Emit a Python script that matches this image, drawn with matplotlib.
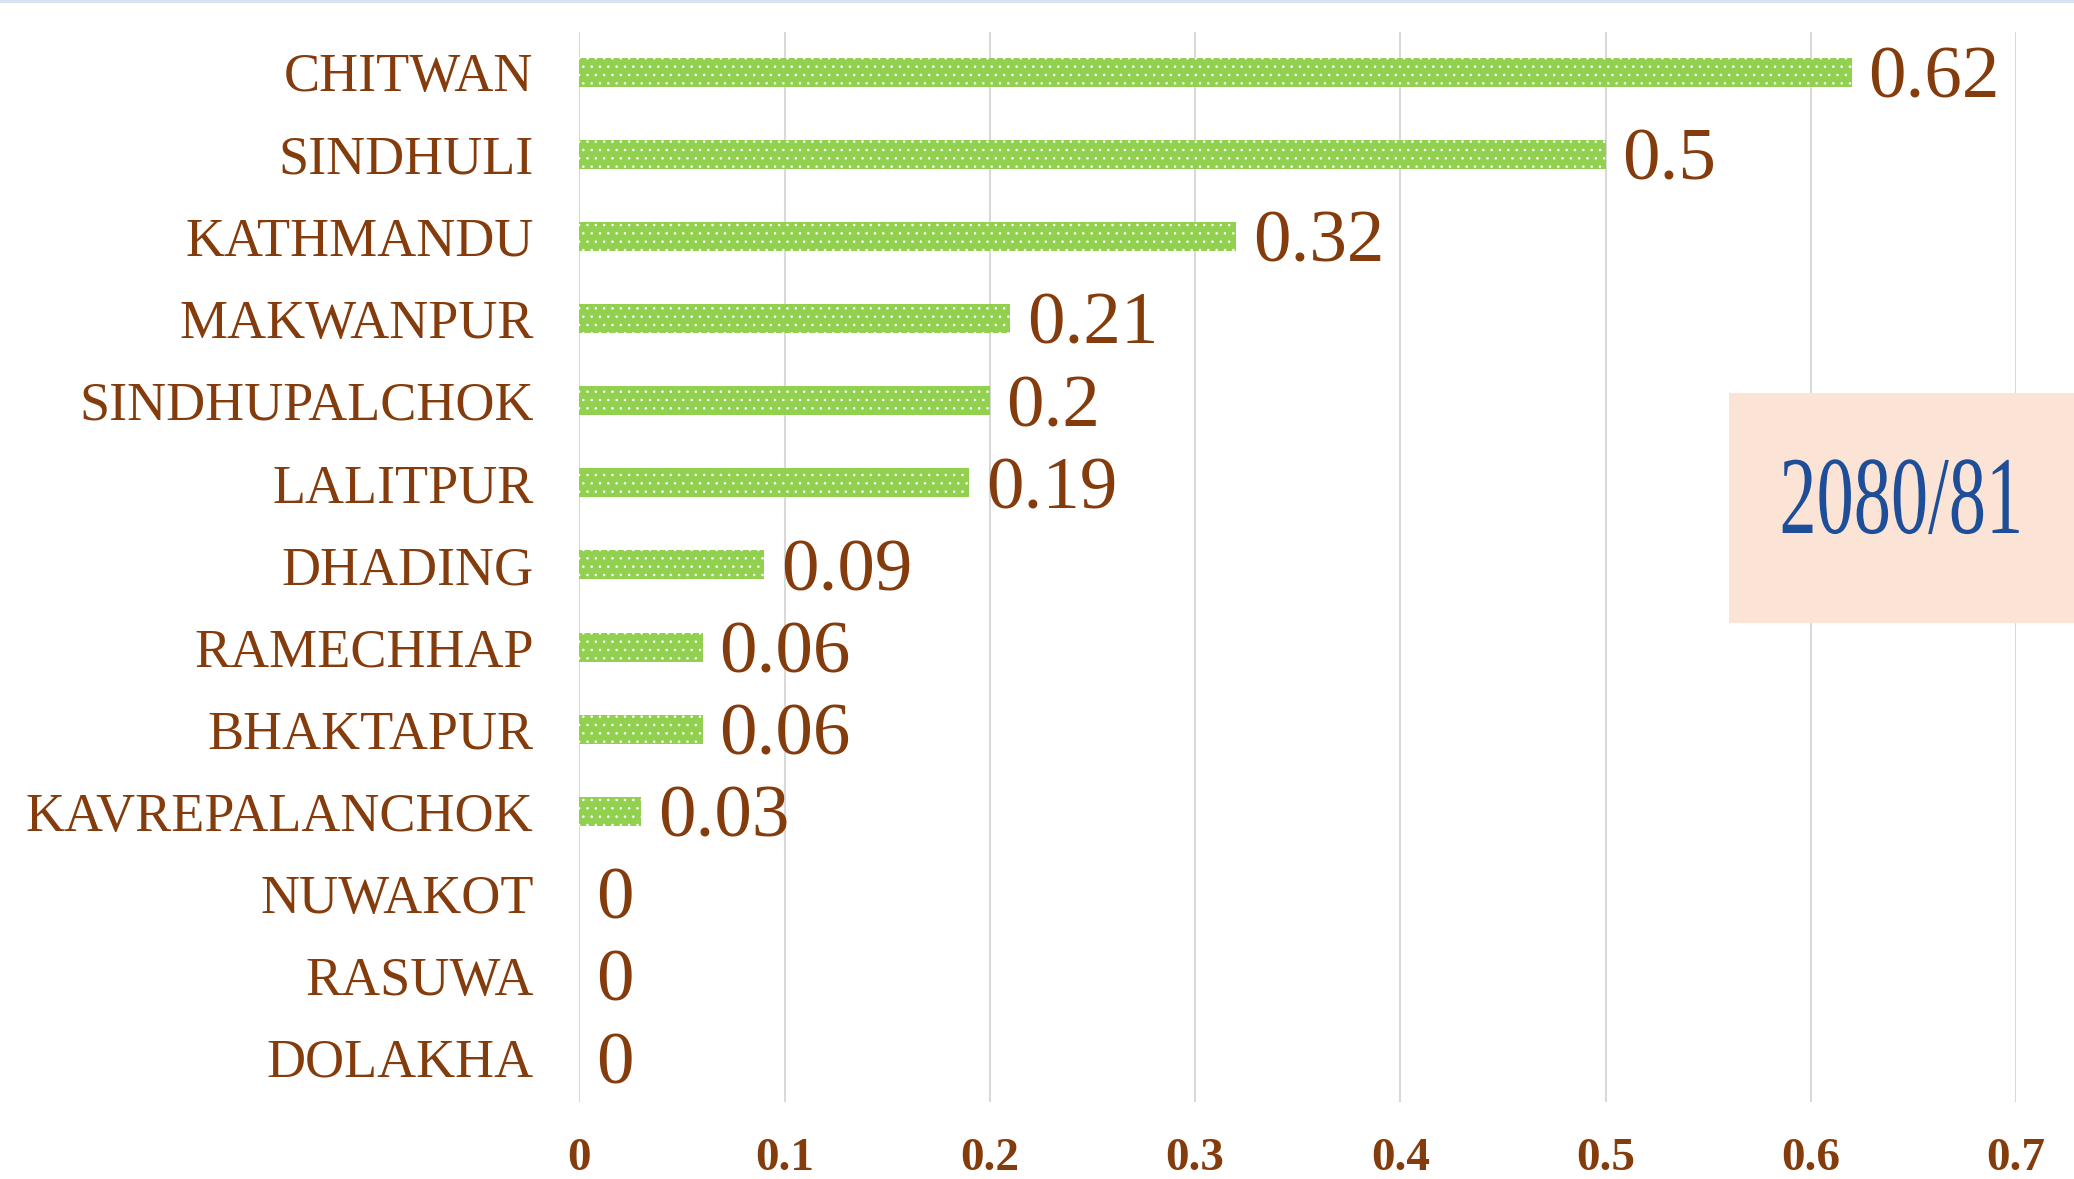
import matplotlib
matplotlib.use("Agg")
import matplotlib.pyplot as plt
from matplotlib.patches import Rectangle
from matplotlib.patheffects import AbstractPathEffect
from matplotlib.transforms import Affine2D

districts = ["CHITWAN", "SINDHULI", "KATHMANDU", "MAKWANPUR", "SINDHUPALCHOK",
             "LALITPUR", "DHADING", "RAMECHHAP", "BHAKTAPUR", "KAVREPALANCHOK",
             "NUWAKOT", "RASUWA", "DOLAKHA"]
values = [0.62, 0.5, 0.32, 0.21, 0.2, 0.19, 0.09, 0.06, 0.06, 0.03, 0, 0, 0]
xticks = [0, 0.1, 0.2, 0.3, 0.4, 0.5, 0.6, 0.7]
xticklabels = ["0", "0.1", "0.2", "0.3", "0.4", "0.5", "0.6", "0.7"]
year_label = "2080/81"

BROWN = "#843C0C"
GREEN = "#92D050"
BLUE = "#1F4E99"
W, H = 2074, 1179

plt.rcParams['font.family'] = ['Liberation Serif', 'DejaVu Serif']
plt.rcParams['hatch.linewidth'] = 0.6

fig = plt.figure(figsize=(W / 100, H / 100), dpi=100)
ax = fig.add_axes([579.4 / W, 1 - 1102 / H, (2016 - 579.4) / W, (1102 - 32) / H])

ypos = list(range(len(districts)))
ax.barh(ypos, values, height=0.353, color=GREEN, edgecolor="white",
        linewidth=0, hatch="..", zorder=3)

ax.set_xlim(0, 0.7)
ax.set_ylim(12.54, -0.49)
ax.set_yticks(ypos)
ax.set_yticklabels(districts, fontsize=39, color=BROWN)
ax.set_xticks(xticks)
ax.set_xticklabels(xticklabels, fontsize=34, color=BROWN, fontweight="bold")
ax.tick_params(axis="y", length=0, pad=33)
ax.tick_params(axis="x", length=0, pad=26)
ax.grid(axis="x", color="#D9D9D9", linewidth=1.5, zorder=0)
for s in ax.spines.values():
    s.set_visible(False)

for y, v in zip(ypos, values):
    ax.annotate(f"{v:g}", xy=(v, y), xytext=(12, -5.5), textcoords="offset points",
                ha="left", va="center", fontsize=54, color=BROWN, zorder=4)

# top border band
fig.patches.append(Rectangle((0, 1 - 3 / H), 1, 3 / H, transform=fig.transFigure,
                             facecolor="#D9E2F3", edgecolor="none", zorder=10))

# year box
box_left, box_top, box_bottom = 1729, 393, 623
fig.patches.append(Rectangle((box_left / W, 1 - box_bottom / H), (W - box_left) / W,
                             (box_bottom - box_top) / H,
                             transform=fig.transFigure, facecolor="#FBE4D5",
                             edgecolor="none", zorder=10))


class Stretch(AbstractPathEffect):
    """Draw text paths stretched about a pivot point given in display pixels."""

    def __init__(self, sx, sy, px, py):
        super().__init__()
        self.sx, self.sy, self.px, self.py = sx, sy, px, py

    def draw_path(self, renderer, gc, tpath, affine, rgbFace=None):
        t = affine + Affine2D().translate(-self.px, -self.py).scale(
            self.sx, self.sy).translate(self.px, self.py)
        renderer.draw_path(gc, tpath, t, rgbFace)


cx = (box_left + W) / 2
base_y = 533
fig.text(cx / W, 1 - base_y / H, year_label, fontsize=70, color=BLUE,
         ha="center", va="baseline", zorder=11,
         path_effects=[Stretch(0.765, 1.14, cx, H - base_y)])

fig.savefig("out.png", dpi=100, facecolor="white")
